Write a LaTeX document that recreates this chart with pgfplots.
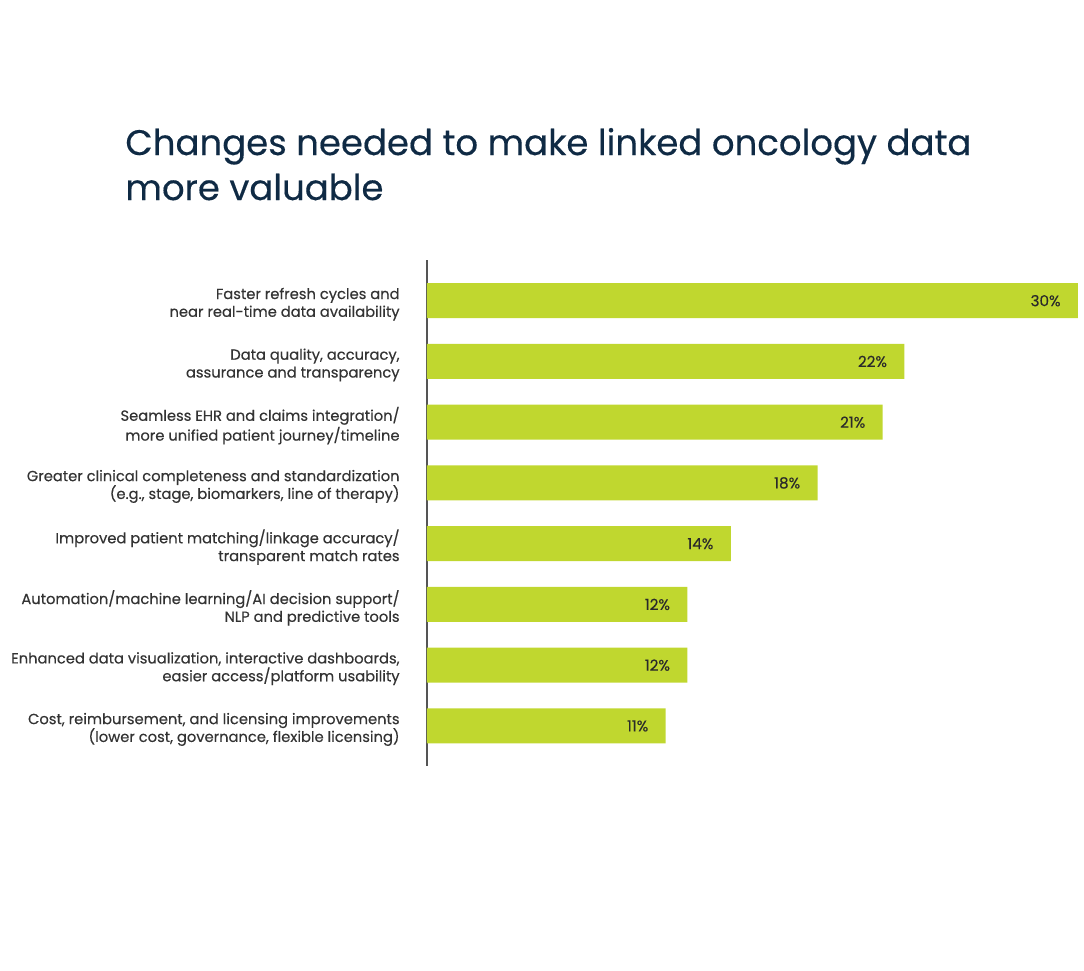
\documentclass[border=0pt]{standalone}
\usepackage{pgfplots}
\pgfplotsset{compat=1.18}
\usepackage{fontspec}
\setmainfont{Poppins}
\newfontfamily\medfont{Poppins}[FakeBold=0.35]
\definecolor{navy}{HTML}{0F2A44}
\definecolor{lime}{HTML}{C0D72F}
\definecolor{labelgray}{HTML}{333333}
\definecolor{valgray}{HTML}{2A2A2A}
\definecolor{axisgray}{HTML}{555555}
\begin{document}
\begin{tikzpicture}
\useasboundingbox (0,0) rectangle (542pt,-485.5pt);
% title
\node[anchor=base west, inner sep=0, text=navy, font=\medfont\fontsize{17.75}{21}\selectfont] at (62.5pt,-77.5pt) {Changes needed to make linked oncology data};
\node[anchor=base west, inner sep=0, text=navy, font=\medfont\fontsize{17.75}{21}\selectfont] at (62.5pt,-100pt) {more valuable};
\begin{axis}[
  at={(213.5pt,-383pt)}, anchor=south west,
  width=325.5pt, height=253pt, scale only axis,
  xbar, bar width=17.5pt,
  xmin=0, xmax=30,
  ymin=-0.67, ymax=7.66, y dir=reverse,
  axis x line=none,
  axis y line=left,
  y axis line style={axisgray, line width=1pt, -},
  ytick={0,...,7},
  major tick length=0,
  yticklabels={
    {Faster refresh cycles and\\near real-time data availability},
    {Data quality, accuracy,\\assurance and transparency},
    {Seamless EHR and claims integration/\\more unified patient journey/timeline},
    {Greater clinical completeness and standardization\\(e.g., stage, biomarkers, line of therapy)},
    {Improved patient matching/linkage accuracy/\\transparent match rates},
    {Automation/machine learning/AI decision support/\\NLP and predictive tools},
    {Enhanced data visualization, interactive dashboards,\\easier access/platform usability},
    {Cost, reimbursement, and licensing improvements\\(lower cost, governance, flexible licensing)}
  },
  yticklabel style={align=right, text=labelgray, inner sep=0pt, xshift=-13.5pt, yshift=-1.75pt,
    font=\medfont\fontsize{7.35}{8.9}\selectfont},
  nodes near coords={\pgfmathprintnumber{\pgfplotspointmeta}\%},
  point meta=x,
  nodes near coords style={anchor=east, inner sep=0pt, xshift=-8.5pt, text=valgray,
    font=\medfont\fontsize{7.6}{9}\selectfont, /pgf/number format/assume math mode=true},
  clip=false,
]
\addplot[fill=lime, draw=none] coordinates {
  (30,0) (22,1) (21,2) (18,3) (14,4) (12,5) (12,6) (11,7)
};
\end{axis}
\end{tikzpicture}
\end{document}
